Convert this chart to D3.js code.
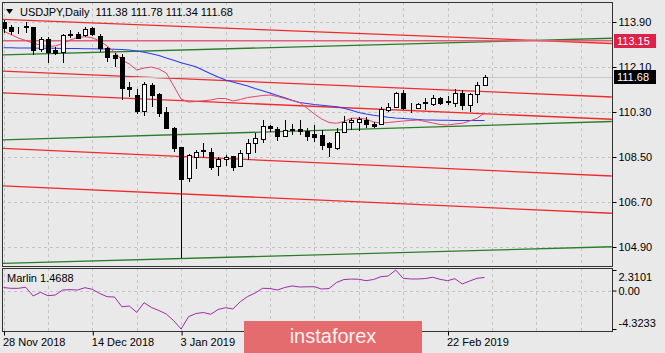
<html>
<head>
<script src="https://d3js.org/d3.v7.min.js"></script>
<style>
    body { margin: 0; background: #e9e9e9; }
    text { font-family: "Liberation Sans", Arial, sans-serif; font-size: 11px; fill: #000; }
</style>
</head>
<body>
<div id="chart"></div>
<script>
    // daily bars, 28 Nov 2018 .. 1 Mar 2019
    let open = [113.90,113.71,113.58,113.72,113.69,112.81,113.22,112.78,112.69,113.39,
        113.41,113.38,113.65,113.35,112.85,112.58,112.49,111.29,110.98,110.35,
        111.38,111.02,110.31,109.65,108.89,107.65,108.51,108.75,108.71,108.14,
        108.42,108.55,108.14,108.65,109.07,109.21,109.74,109.62,109.34,109.60,
        109.61,109.55,109.42,109.38,109.06,108.85,109.51,109.89,109.91,109.98,
        109.82,109.82,110.38,110.51,111.05,110.45,110.45,110.67,110.62,110.85,
        110.71,110.65,111.07,110.58,111.01,111.38];
    let high = [114.00,113.80,113.71,113.89,113.72,113.31,113.29,112.91,113.41,113.58,
        113.51,113.71,113.71,113.41,112.91,112.65,112.61,111.49,111.21,111.49,
        111.45,111.07,110.51,109.70,108.91,108.62,108.78,109.07,108.87,108.51,
        108.58,108.55,108.78,109.21,109.45,109.98,109.78,109.69,109.98,109.82,
        109.98,109.65,109.78,109.58,109.10,109.65,110.14,110.05,110.09,110.09,
        109.91,110.51,110.67,111.11,111.18,110.67,110.65,110.85,110.98,110.91,
        110.94,111.21,111.18,111.07,111.51,111.78];
    let low = [113.46,113.38,113.41,113.45,112.58,112.71,112.25,112.58,112.25,113.25,
        113.22,113.31,113.35,112.69,112.31,112.11,110.80,110.91,110.21,110.15,
        110.49,110.11,109.62,108.71,104.45,107.49,108.01,108.45,107.98,107.74,
        108.14,107.95,108.11,108.38,108.67,109.06,109.51,109.15,109.30,109.38,
        109.38,109.15,109.11,108.78,108.49,108.78,109.45,109.58,109.55,109.65,
        109.65,109.78,110.31,110.45,110.38,110.25,110.41,110.38,110.54,110.58,
        110.58,110.49,110.38,110.31,110.65,111.34];
    let close = [113.66,113.54,113.59,113.74,112.78,113.22,112.69,112.65,113.38,113.42,
        113.27,113.62,113.41,112.85,112.51,112.47,111.28,111.21,110.34,111.41,
        110.98,110.25,109.65,108.85,107.61,108.58,108.71,108.78,108.11,108.41,
        108.51,108.11,108.67,109.05,109.25,109.74,109.65,109.34,109.58,109.61,
        109.54,109.34,109.30,108.98,108.90,109.51,109.91,109.98,110.01,109.82,
        109.74,110.41,110.51,111.05,110.45,110.47,110.61,110.69,110.85,110.67,
        110.73,111.07,110.58,111.01,111.38,111.68];

    // slow moving average (blue) and fast one (thin crimson)
    let maSlow = [112.87,112.87,112.86,112.86,112.86,112.85,112.85,112.85,112.84,112.84,
        112.84,112.83,112.83,112.82,112.82,112.81,112.80,112.78,112.74,112.69,
        112.63,112.56,112.46,112.37,112.27,112.19,112.11,111.97,111.83,111.70,
        111.58,111.50,111.42,111.34,111.24,111.15,111.06,110.96,110.87,110.77,
        110.68,110.64,110.60,110.57,110.54,110.51,110.45,110.37,110.28,110.22,
        110.17,110.13,110.09,110.06,110.04,110.02,110.00,109.98,109.98,109.97,
        109.97,109.96,109.96,109.96,109.96,109.96];
    let maFast = [113.54,113.40,113.26,113.16,113.05,112.98,112.92,112.94,113.04,113.18,
        113.28,113.31,113.27,113.14,112.94,112.70,112.38,112.22,111.98,112.06,
        112.10,112.02,111.86,111.34,110.82,110.70,110.72,110.75,110.78,110.84,
        110.84,110.74,110.80,110.88,110.92,110.96,110.98,110.92,110.84,110.76,
        110.68,110.46,110.22,110.02,109.88,109.85,109.92,110.05,110.05,110.02,
        109.90,109.86,109.88,109.91,109.94,109.96,109.98,109.92,109.86,109.80,
        109.78,109.82,109.85,109.94,110.05,110.26];

    // Marlin oscillator
    let marlin = [0.34,0.25,0.25,0.37,-0.61,-0.20,-0.58,-0.50,0.06,0.10,
        0.06,0.32,0.14,-0.33,-0.69,-0.73,-1.82,-1.74,-2.45,-1.37,
        -1.91,-2.24,-2.64,-3.39,-4.3233,-2.94,-2.58,-2.47,-2.67,-2.13,
        -1.93,-2.07,-1.25,-0.67,-0.28,0.25,0.23,0.06,0.34,0.52,
        0.40,0.42,0.43,0.17,0.23,0.90,1.24,1.29,1.27,1.11,
        1.24,1.56,1.64,2.3101,1.38,1.30,1.30,1.35,1.49,1.26,
        1.11,1.33,0.74,1.07,1.38,1.4688];
    let marlinTicks = [2.3101, 0, -4.3233];

    // trend channel lines: [bar, price, bar, price]
    let redLines = [[-0.5, 114.01, 82.2, 113.04], [-0.5, 111.94, 82.2, 110.90], [-0.5, 111.07, 82.2, 110.01],
        [-0.5, 108.85, 82.2, 107.74], [-0.5, 107.35, 82.2, 106.25]];
    let greenLines = [[-0.5, 112.58, 82.2, 113.25], [-0.5, 109.18, 82.2, 109.92], [-0.5, 104.24, 82.2, 104.91]];
    let levelPrice = 113.15;

    let priceTicks = [113.90, 112.10, 110.30, 108.50, 106.70, 104.90];
    // labels at bars 36 and 48 sit under the watermark, so only the visible ones
    let dateIdx = [0, 12, 24, 60];
    let dateLabels = ["28 Nov 2018", "14 Dec 2018", "3 Jan 2019", "22 Feb 2019"];
    let gridIdx = d3.range(0, 82, 6);

    const W = 665, H = 353;
    const left = 2, right = 612, mainTop = 2, mainBottom = 266, subTop = 268, subBottom = 331;
    const n = close.length;

    let svg = d3.select("#chart").append("svg").attr("width", W).attr("height", H);
    svg.append("rect").attr("width", W).attr("height", H).attr("fill", "#e9e9e9");

    let x = d3.scaleLinear().domain([0, 65]).range([3.5, 484.5]);
    let y = d3.scaleLinear().domain([104.9, 113.9]).range([247, 22]);
    let ym = d3.scaleLinear().domain([-4.3233, 2.3101]).range([329, 270]);

    let defs = svg.append("defs");
    defs.append("clipPath").attr("id", "clipMain").append("rect")
        .attr("x", left + 1).attr("y", mainTop + 1).attr("width", right - left - 1).attr("height", mainBottom - mainTop - 1);
    defs.append("clipPath").attr("id", "clipSub").append("rect")
        .attr("x", left + 1).attr("y", subTop + 1).attr("width", right - left - 1).attr("height", subBottom - subTop - 1);

    let px = v => Math.round(v) + 0.5;

    // grid
    let grid = svg.append("g").attr("stroke", "#c4c4c4").attr("stroke-dasharray", "3,3");
    gridIdx.forEach(function(i) {
        grid.append("line").attr("x1", px(x(i))).attr("x2", px(x(i))).attr("y1", mainTop).attr("y2", mainBottom);
        grid.append("line").attr("x1", px(x(i))).attr("x2", px(x(i))).attr("y1", subTop).attr("y2", subBottom);
    });
    priceTicks.forEach(function(p) {
        grid.append("line").attr("x1", left).attr("x2", right).attr("y1", px(y(p))).attr("y2", px(y(p)));
    });
    grid.append("line").attr("x1", left).attr("x2", right).attr("y1", px(ym(0))).attr("y2", px(ym(0)));

    let main = svg.append("g").attr("clip-path", "url(#clipMain)");

    // channels
    main.selectAll(".red").data(redLines).enter().append("line")
        .attr("x1", d => x(d[0])).attr("y1", d => y(d[1])).attr("x2", d => x(d[2])).attr("y2", d => y(d[3]))
        .attr("stroke", "#f22a2a").attr("stroke-width", 1.3);
    main.selectAll(".green").data(greenLines).enter().append("line")
        .attr("x1", d => x(d[0])).attr("y1", d => y(d[1])).attr("x2", d => x(d[2])).attr("y2", d => y(d[3]))
        .attr("stroke", "#2a7d2a").attr("stroke-width", 1.3);

    main.append("line").attr("x1", left).attr("x2", right).attr("y1", y(levelPrice)).attr("y2", y(levelPrice))
        .attr("stroke", "#e2607c").attr("stroke-width", 1.6);
    main.append("line").attr("x1", left).attr("x2", right).attr("y1", px(y(close[n - 1]))).attr("y2", px(y(close[n - 1])))
        .attr("stroke", "#c8c8c8");

    // moving averages
    let lineGen = arr => d3.line().x((d, i) => x(i)).y(d => y(d))(arr);
    main.append("path").attr("d", lineGen(maSlow)).attr("fill", "none").attr("stroke", "#2b3cf0").attr("stroke-width", 1.1);
    main.append("path").attr("d", lineGen(maFast)).attr("fill", "none").attr("stroke", "#e2456a").attr("stroke-width", 1);

    // candles
    let bars = main.selectAll(".bar").data(d3.range(n)).enter().append("g");
    bars.append("line")
        .attr("x1", i => px(x(i))).attr("x2", i => px(x(i)))
        .attr("y1", i => Math.round(y(high[i]))).attr("y2", i => Math.round(y(low[i])))
        .attr("stroke", "#000");
    bars.append("rect")
        .attr("x", i => Math.round(x(i)) - 1.5)
        .attr("width", 4)
        .attr("y", i => Math.round(y(Math.max(open[i], close[i]))) + 0.5)
        .attr("height", i => Math.abs(Math.round(y(open[i])) - Math.round(y(close[i]))))
        .attr("fill", i => close[i] >= open[i] ? "#fff" : "#000")
        .attr("stroke", "#000");

    // Marlin panel
    svg.append("g").attr("clip-path", "url(#clipSub)").append("path")
        .attr("d", d3.line().x((d, i) => x(i)).y(d => ym(d))(marlin))
        .attr("fill", "none").attr("stroke", "#a02aa8").attr("stroke-width", 1);

    // frames
    svg.append("rect").attr("x", left + 0.5).attr("y", mainTop + 0.5).attr("width", right - left).attr("height", mainBottom - mainTop)
        .attr("fill", "none").attr("stroke", "#333");
    svg.append("rect").attr("x", left + 0.5).attr("y", subTop + 0.5).attr("width", right - left).attr("height", subBottom - subTop)
        .attr("fill", "none").attr("stroke", "#333");

    // price axis
    let ax = svg.append("g").attr("transform", "translate(" + (right + 0.5) + ",0)")
        .call(d3.axisRight(y).tickValues(priceTicks).tickSize(4).tickPadding(2).tickFormat(d3.format(".2f")));
    ax.select(".domain").remove();
    ax.selectAll("line").attr("stroke", "#000");

    // Marlin axis
    let ax2 = svg.append("g").attr("transform", "translate(" + (right + 0.5) + ",0)")
        .call(d3.axisRight(ym).tickValues(marlinTicks).tickSize(4).tickPadding(2)
            .tickFormat(d => d === 0 ? "0.00" : String(d)));
    ax2.select(".domain").remove();
    ax2.selectAll("line").attr("stroke", "#000");
    ax2.selectAll("text").attr("dy", (d, i) => ["0.95em", "0.32em", "-0.25em"][i]);

    // date axis
    let ax3 = svg.append("g").attr("transform", "translate(0," + (subBottom + 0.5) + ")")
        .call(d3.axisBottom(x).tickValues(dateIdx).tickSize(4).tickPadding(3).tickFormat((d, i) => dateLabels[i]));
    ax3.select(".domain").remove();
    ax3.selectAll("line").attr("stroke", "#000").attr("x1", 0.5).attr("x2", 0.5);
    ax3.selectAll("text").attr("text-anchor", "start").attr("x", -1);

    // price boxes
    svg.append("rect").attr("x", 614).attr("y", 34).attr("width", 42).attr("height", 14).attr("fill", "#dc2248");
    svg.append("text").attr("x", 617).attr("y", 45).style("fill", "#fff").text(levelPrice.toFixed(2));
    svg.append("rect").attr("x", 614).attr("y", Math.round(y(close[n - 1])) - 7).attr("width", 42).attr("height", 14).attr("fill", "#000");
    svg.append("text").attr("x", 617).attr("y", Math.round(y(close[n - 1])) + 4).style("fill", "#fff").text(close[n - 1].toFixed(2));

    // titles
    svg.append("path").attr("d", "M6,9 L13,9 L9.5,14 Z").attr("fill", "#000");
    svg.append("text").attr("x", 20).attr("y", 16).style("white-space", "pre")
        .text("USDJPY,Daily  " + [open[n - 1], high[n - 1], low[n - 1], close[n - 1]].map(v => v.toFixed(2)).join(" "));
    svg.append("text").attr("x", 7).attr("y", 282).text("Marlin " + marlin[n - 1]);

    // watermark banner
    svg.append("rect").attr("x", 244).attr("y", 321).attr("width", 178).attr("height", 32).attr("fill", "#e46b6e");
    svg.append("text").attr("x", 333).attr("y", 343).attr("text-anchor", "middle")
        .style("font-size", "20px").style("fill", "#fbf2f2").text("instaforex");
</script>
</body>
</html>
